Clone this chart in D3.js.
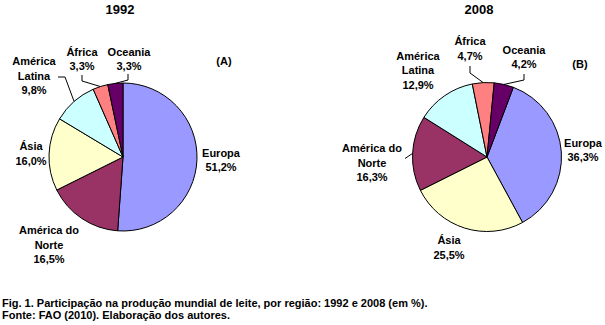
<!DOCTYPE html>
<html>
<head>
<meta charset="utf-8">
<script src="https://cdn.jsdelivr.net/npm/d3@7"></script>
<style>
  html, body { margin: 0; padding: 0; background: #fff; }
  svg { display: block; }
  text { font-family: "Liberation Sans", Arial, sans-serif; font-weight: bold; fill: #000; }
</style>
</head>
<body>
<svg id="chart" width="605" height="325"></svg>
<script>
// ---- Data ----
const years = ["1992", "2008"];
const panelTags = ["(A)", "(B)"];
const regions1992 = ["Europa", "América do Norte", "Ásia", "América Latina", "África", "Oceania"];
const share1992 = [51.2, 16.5, 16.0, 9.8, 3.3, 3.3];
const regions2008 = ["Europa", "Ásia", "América do Norte", "América Latina", "África", "Oceania"];
const share2008 = [36.3, 25.5, 16.3, 12.9, 4.7, 4.2];
const captionLines = [
  "Fig. 1. Participação na produção mundial de leite, por região: 1992 e 2008 (em %).",
  "Fonte: FAO (2010). Elaboração dos autores."
];

// ---- Styling / layout (not data) ----
const regionColor = {
  "Europa": "#9999FF",
  "América do Norte": "#993366",
  "Ásia": "#FFFFCC",
  "América Latina": "#CCFFFF",
  "África": "#FF8080",
  "Oceania": "#660066"
};
const nameLines = {
  "Europa": ["Europa"],
  "América do Norte": ["América do", "Norte"],
  "Ásia": ["Ásia"],
  "América Latina": ["América", "Latina"],
  "África": ["África"],
  "Oceania": ["Oceania"]
};
const lineH = 14.5;

const panels = [
  {
    year: years[0], tag: panelTags[0], regions: regions1992, values: share1992,
    cx: 123, cy: 157, r: 74, start: 0,
    title: [120, 14], tagPos: [224, 64.5],
    labels: {
      "Europa": { x: 221, y: 156.5 },
      "América do Norte": { x: 49, y: 234 },
      "Ásia": { x: 31, y: 150 },
      "América Latina": { x: 34, y: 65, leader: [[58, 77], [65, 77]] },
      "África": { x: 82, y: 55.5, leader: [[82, 75], [82, 81]] },
      "Oceania": { x: 129, y: 55.5, leader: [[128, 74], [128, 80]] }
    }
  },
  {
    year: years[1], tag: panelTags[1], regions: regions2008, values: share2008,
    cx: 487, cy: 157, r: 74.5, start: 20.7 * Math.PI / 180,
    title: [479, 13.5], tagPos: [580, 68],
    labels: {
      "Europa": { x: 583, y: 146.5 },
      "América do Norte": { x: 372, y: 152, leader: [[405, 158.5]] },
      "Ásia": { x: 449, y: 244 },
      "América Latina": { x: 418, y: 59.5 },
      "África": { x: 470, y: 45, leader: [[470, 66], [470, 73]] },
      "Oceania": { x: 524, y: 53.5, leader: [[524, 74], [524, 80]] }
    }
  }
];

const fmt = v => d3.format(".1f")(v).replace(".", ",") + "%";
const svg = d3.select("#chart");

panels.forEach(p => {
  const data = p.regions.map((name, i) => ({ name, value: p.values[i] }));
  const pie = d3.pie().sort(null).value(d => d.value)
    .startAngle(p.start).endAngle(p.start + 2 * Math.PI);
  const arcs = pie(data);
  const arc = d3.arc().innerRadius(0).outerRadius(p.r);
  const edge = d3.arc().innerRadius(p.r).outerRadius(p.r);

  const g = svg.append("g").attr("transform", `translate(${p.cx},${p.cy})`);
  g.selectAll("path").data(arcs).join("path")
    .attr("d", arc)
    .attr("fill", d => regionColor[d.data.name])
    .attr("stroke", "#000")
    .attr("stroke-width", 1)
    .attr("stroke-linejoin", "round");

  // title and panel tag
  svg.append("text").attr("x", p.title[0]).attr("y", p.title[1])
    .attr("text-anchor", "middle").style("font-size", "13px").text(p.year);
  svg.append("text").attr("x", p.tagPos[0]).attr("y", p.tagPos[1])
    .attr("text-anchor", "middle").style("font-size", "11px").text(p.tag);

  // labels & leaders
  arcs.forEach(a => {
    const L = p.labels[a.data.name];
    const lines = nameLines[a.data.name].concat([fmt(a.data.value)]);
    const t = svg.append("text").attr("text-anchor", "middle").style("font-size", "11px");
    lines.forEach((s, i) => {
      t.append("tspan").attr("x", L.x).attr("y", L.y + i * lineH).text(s);
    });
    if (L.leader) {
      const c = edge.centroid(a);
      const pts = L.leader.concat([[p.cx + c[0], p.cy + c[1]]]);
      svg.append("path")
        .attr("d", d3.line()(pts))
        .attr("fill", "none").attr("stroke", "#000").attr("stroke-width", 1);
    }
  });
});

// caption
const cap = svg.append("text").style("font-size", "11px");
captionLines.forEach((s, i) => {
  cap.append("tspan").attr("x", 2).attr("y", 306.5 + i * 12).text(s);
});
</script>
</body>
</html>
